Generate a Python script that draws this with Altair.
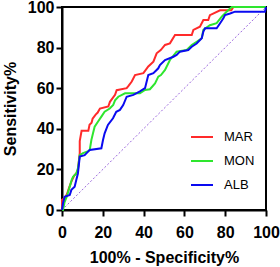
import altair as alt
import pandas as pd

series = ["MAR", "MON", "ALB"]
colors = ["#FF2A2A", "#2EE62E", "#0A0AF0"]
ticks = [0, 20, 40, 60, 80, 100]

mar_x = [0, 0, 1.5, 2.5, 3.5, 4.6, 6, 7, 7.8, 8.7, 8.7, 9.6, 12.9, 13.5, 14.5, 15, 16.5, 17.5, 18.6, 22.7,
         23.5, 26, 26.8, 31.7, 32.5, 34.2, 35.8, 39.9, 42.3, 44.8, 46.4, 48.4, 50.5, 52.9, 55.4, 63.6,
         64.4, 67.6, 69.3, 71.7, 72.5, 77.5, 83, 84, 100]
mar_y = [0, 5, 6, 8, 11, 14, 17, 18, 19.7, 28, 34, 39, 39, 42, 43, 45, 47, 48, 50, 51,
         53.3, 56.7, 59, 60, 61, 63.3, 66.5, 67.4, 70.7, 73.1, 77.2, 78.8, 81.3, 82.1, 86.2, 86.2,
         88.7, 90.3, 93.6, 93.6, 96, 98.4, 98.4, 100, 100]

mon_x = [0, 0.5, 1.3, 2.3, 3.8, 4.8, 5.4, 7, 7.8, 8.7, 10.3, 12.9, 13.6, 14.4, 15.2, 16, 17.6, 19.3, 20.9,
         23.4, 25.1, 26, 27.6, 30.9, 38.2, 40.7, 43.1, 45.6, 47.2, 48.5, 50.5, 52.9, 56.2, 61.1,
         63.6, 66, 68.5, 69.3, 72.5, 75.8, 78.3, 80.7, 83.2, 100]
mon_y = [0, 0, 4, 6.5, 11.5, 15, 16.4, 18, 20.5, 27, 28, 29, 29.6, 34.5, 37.8, 41, 43.5, 46, 48.4,
         50, 51.7, 54, 55.8, 57.5, 57.5, 59.1, 59.5, 62.4, 65.7, 66.5, 69, 73.9, 78, 78.8,
         81.3, 82.9, 84.6, 88.7, 91, 92, 95.2, 97.7, 100, 100]

alb_x = [0, 0.5, 1.3, 3.8, 4.6, 6.2, 7, 7.8, 8.7, 11.1, 13.6, 19.3, 20.1, 20.9, 22.5, 25, 26.6, 28.4,
         30, 31.7, 35, 38.2, 40.7, 42.3, 44.8, 47.2, 48, 50.5, 54.6, 56.2, 57.8, 61.9, 63.6, 66,
         68.5, 69.3, 70.1, 75.8, 77.5, 79.1, 79.9, 82.4, 84.8, 99.5, 100]
alb_y = [0, 3.3, 6.5, 7.4, 9.9, 11.5, 14.8, 18, 26.3, 27, 29.6, 30.4, 34.5, 37.8, 41.9, 45.2, 48.4, 49.3,
         51.7, 55.8, 56.7, 58.4, 60, 66.5, 67.4, 69.8, 71.4, 73.9, 75.5, 76.4, 78, 78.8, 80.4, 82,
         84.6, 87.9, 89.5, 89.5, 92, 94.4, 96, 96.8, 97.7, 97.7, 100]

rows = []
for name, xs, ys in [("MAR", mar_x, mar_y), ("MON", mon_x, mon_y), ("ALB", alb_x, alb_y)]:
    for i, (x, y) in enumerate(zip(xs, ys)):
        rows.append({"series": name, "fpr": x, "tpr": y, "idx": i})
df = pd.DataFrame(rows)
diag = pd.DataFrame({"fpr": [0, 100], "tpr": [0, 100], "idx": [0, 1]})

FONT = "Liberation Sans"

x_enc = alt.X("fpr:Q", scale=alt.Scale(domain=[0, 100], nice=False, zero=False),
              axis=alt.Axis(values=ticks, title="100% - Specificity%", grid=False,
                            labelFlush=False, labelOverlap=False,
                            titleY=52, titleBaseline="alphabetic"))
y_enc = alt.Y("tpr:Q", scale=alt.Scale(domain=[0, 100], nice=False, zero=False),
              axis=alt.Axis(values=ticks, title="Sensitivity%", grid=False,
                            labelFlush=False, labelOverlap=False,
                            titleX=-47, titleY=101.5, titleAngle=-90,
                            titleAlign="center", titleBaseline="alphabetic"))

color_enc = alt.Color("series:N", scale=alt.Scale(domain=series, range=colors),
                      legend=alt.Legend(title=None, orient="none", legendX=128, legendY=118,
                                        symbolType="stroke", symbolSize=484, symbolStrokeWidth=2,
                                        labelFontSize=13, labelFont=FONT, labelColor="black",
                                        labelOffset=10, rowPadding=5, padding=0))

diag_chart = alt.Chart(diag).mark_line(color="#9A66DD", strokeWidth=1, strokeDash=[2, 2]).encode(
    x=x_enc, y=y_enc, order="idx:Q")

layers = [diag_chart]
for s in series:
    layers.append(
        alt.Chart(df).transform_filter(alt.datum.series == s).mark_line(strokeWidth=2).encode(
            x=x_enc, y=y_enc, color=color_enc, order="idx:Q")
    )

chart = alt.layer(*layers).properties(
    width=204, height=203,
    autosize=alt.AutoSizeParams(type="none"),
    padding={"left": 62, "top": 7, "right": 14, "bottom": 57},
    background="white",
).configure_view(
    stroke="black", strokeWidth=2
).configure_axis(
    domainColor="black", domainWidth=2, tickColor="black", tickWidth=2, tickSize=6,
    labelFont=FONT, labelFontSize=16, labelFontWeight="bold", labelColor="black",
    titleFont=FONT, titleFontSize=16, titleFontWeight="bold", titleColor="black",
).configure_axisX(labelPadding=8).configure_axisY(labelPadding=2)

chart.save("out.html", embed_options={"renderer": "svg", "actions": False})
